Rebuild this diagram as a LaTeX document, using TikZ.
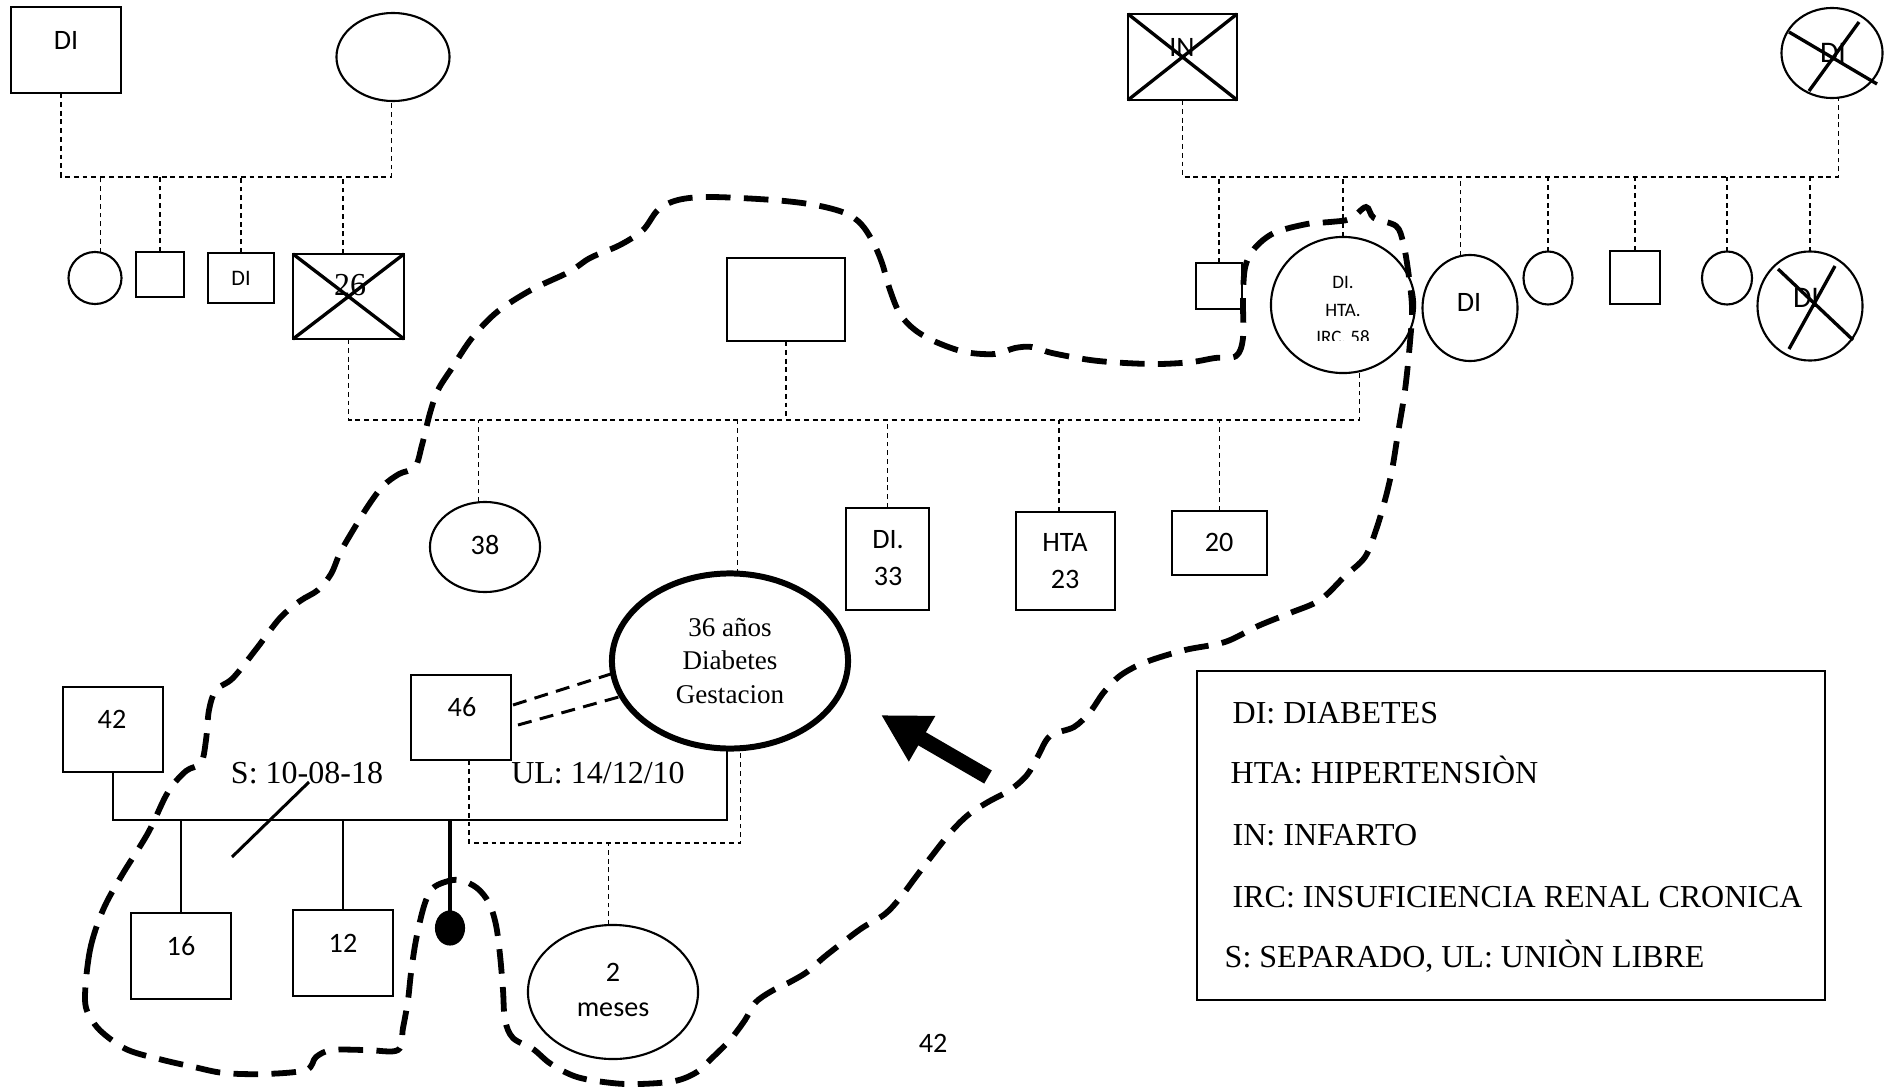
\documentclass[tikz,border=0pt]{standalone}
\usepackage{fontspec}
\setmainfont{Liberation Serif}
\newfontfamily\carl{Carlito}
\usetikzlibrary{shapes.geometric,calc,arrows.meta}
\begin{document}
\begin{tikzpicture}[x=0.01cm,y=-0.01cm,
  pbox/.style 2 args={draw,line width=0.6pt,rectangle,inner sep=0pt,outer sep=0pt,minimum width=#1*0.28453pt,minimum height=#2*0.28453pt},
  pell/.style 2 args={draw,line width=0.6pt,ellipse,inner sep=0pt,outer sep=0pt,minimum width=#1*0.28453pt,minimum height=#2*0.28453pt},
  sanslbl/.style={inner sep=0pt,font=\carl\fontsize{8}{9.6}\selectfont},
  seriflbl/.style={inner sep=0pt,font=\fontsize{9.1}{11}\selectfont},
  conn/.style={line width=0.35pt,dash pattern=on 1.4pt off 1.1pt},
  solidc/.style={line width=0.4pt},
  xline/.style={line width=0.95pt},
  dbl/.style={line width=0.85pt,dash pattern=on 4pt off 2.4pt},
  hull/.style={line width=1.65pt,dash pattern=on 7pt off 3.8pt},
]
\useasboundingbox (0,0) rectangle (1888,1088);

% ---------- top-left grandparents ----------
\node[pbox={110}{86}] (gpA) at (66,50) {};
\node[sanslbl] (gpAt) at (66,40) {DI};
\node[pell={113}{88}] (gpB) at (393,57) {};

% top-left children
\node[pell={53}{52}] (c1) at (95,278) {};
\node[pbox={48}{45}] (c2) at (160,274.5) {};
\node[pbox={66}{50}] (c3) at (241,278) {};
\node[sanslbl,font=\carl\fontsize{6.3}{7}\selectfont] (c3t) at (241,278) {DI};
\node[pbox={111}{85}] (c4) at (348.5,296.5) {};
\node[seriflbl] (c4t) at (350,285) {26};
\draw[xline] (c4.north west) -- (c4.south east) (c4.south west) -- (c4.north east);

\coordinate (barTL) at (0,177);
\coordinate (a1) at ($(gpA.south)+(-5,0)$);
\coordinate (c4n) at ($(c4.north)+(-5.5,0)$);
\draw[conn] (a1) -- (a1 |- barTL) -- (gpB.-92 |- barTL) -- (gpB.-92);
\draw[conn] (c1.77) -- (c1.77 |- barTL);
\draw[conn] (c2.north) -- (c2.north |- barTL);
\draw[conn] (c3.north) -- (c3.north |- barTL);
\draw[conn] (c4n) -- (c4n |- barTL);

% ---------- top-right grandparents ----------
\node[pbox={109}{86}] (gpC) at (1182.5,57) {};
\node[sanslbl] (gpCt) at (1182,47) {IN};
\draw[xline] (gpC.north west) -- (gpC.south east) (gpC.south west) -- (gpC.north east);
\node[pell={101}{90}] (gpD) at (1832,53) {};
\node[sanslbl,font=\carl\fontsize{8.5}{10}\selectfont] (gpDt) at (1833,53) {DI};
\draw[xline] ($(gpD.center)+(-43,-21)$) -- ($(gpD.center)+(45,31)$)
             ($(gpD.center)+(27,-31)$) -- ($(gpD.center)+(-23,38)$);

% top-right children
\node[pbox={46}{46}] (d1) at (1219,286) {};
\node[pell={144}{136}] (d2) at (1343,305) {};
\begin{scope}
  \clip (1260,240) rectangle (1430,340);
  \node[inner sep=0pt,align=center,font=\carl\fontsize{5.4}{7.8}\selectfont] (d2t) at (1343,310) {DI.\\HTA.\\IRC. 58};
\end{scope}
\node[pell={95}{106}] (d3) at (1470,308) {};
\node[sanslbl] (d3t) at (1469,302) {DI};
\node[pell={49}{53}] (d4) at (1548,278) {};
\node[pbox={50}{53}] (d5) at (1635,277.5) {};
\node[pell={50}{53}] (d6) at (1727,278) {};
\node[pell={105}{109}] (d7) at (1810,306) {};
\node[sanslbl,font=\carl\fontsize{8.5}{10}\selectfont] (d7t) at (1806,298) {DI};
\draw[xline] ($(d7.center)+(-32,-37)$) -- ($(d7.center)+(43,34)$)
             ($(d7.center)+(25,-40)$) -- ($(d7.center)+(-21,43)$);

\coordinate (barTR) at (0,177);
\draw[conn] (gpC.south) -- (gpC.south |- barTR) -- (gpD.-82 |- barTR) -- (gpD.-82);
\draw[conn] (d1.north) -- (d1.north |- barTR);
\draw[conn] (d2.north) -- (d2.north |- barTR);
\draw[conn] (d3.100) -- (d3.100 |- barTR);
\draw[conn] (d4.north) -- (d4.north |- barTR);
\draw[conn] (d5.north) -- (d5.north |- barTR);
\draw[conn] (d6.north) -- (d6.north |- barTR);
\draw[conn] (d7.north) -- (d7.north |- barTR);

% ---------- middle generation ----------
\node[pbox={118}{83}] (mid) at (786,299.5) {};
\node[pell={110}{90}] (e38) at (485,547) {};
\node[sanslbl] (e38t) at (485,545) {38};
\node[pell={236}{175},line width=1.7pt,align=center,font=\fontsize{7.7}{9.5}\selectfont] (idx) at (730,661) {36 años\\Diabetes\\Gestacion};
\node[pbox={83}{102}] (b33) at (887.5,559) {};
\node[sanslbl,align=center,font=\carl\fontsize{8}{10.5}\selectfont] (b33t) at (888,558.5) {DI.\\33};
\node[pbox={99}{98}] (b23) at (1065.5,561) {};
\node[sanslbl,align=center,font=\carl\fontsize{8}{10.5}\selectfont] (b23t) at (1065,561.5) {HTA\\23};
\node[pbox={95}{64}] (b20) at (1219.5,543) {};
\node[sanslbl] (b20t) at (1219,542) {20};

\coordinate (barM) at (0,420);
\coordinate (b23n) at ($(b23.north)+(-6.5,0)$);
\draw[conn] (c4.south) -- (c4.south |- barM) -- (d2.-76 |- barM) -- (d2.-76);
\draw[conn] (mid.south) -- (mid.south |- barM);
\draw[conn] (e38.98) -- (e38.98 |- barM);
\draw[conn] (idx.85) -- (idx.85 |- barM);
\draw[conn] (b33.north) -- (b33.north |- barM);
\draw[conn] (b23n) -- (b23n |- barM);
\draw[conn] (b20.north) -- (b20.north |- barM);

% ---------- bottom generation ----------
\node[pbox={100}{85}] (b42) at (113,729.5) {};
\node[sanslbl] (b42t) at (112,719) {42};
\node[pbox={100}{85}] (b46) at (461,717.5) {};
\node[sanslbl] (b46t) at (462,707) {46};
\node[pbox={100}{86}] (b16) at (181,956) {};
\node[sanslbl] (b16t) at (181,946) {16};
\node[pbox={100}{86}] (b12) at (343,953) {};
\node[sanslbl] (b12t) at (343,943) {12};
\node[pell={28}{33},fill=black] (dot) at (450,928) {};
\node[pell={170}{134}] (e2m) at (613,992) {};
\node[sanslbl,align=center,font=\carl\fontsize{8}{10.2}\selectfont] (e2mt) at (613,990) {2\\meses};

\coordinate (barB) at (0,820);
\draw[solidc] (b42.south) -- (b42.south |- barB) -- (idx.-92.6 |- barB) -- (idx.-92.6);
\draw[solidc] (b16.north) -- (b16.north |- barB);
\draw[solidc] (b12.north) -- (b12.north |- barB);
\draw[line width=0.9pt] (dot.north) -- (dot.north |- barB);
\coordinate (s1) at (309,782);
\coordinate (s2) at (232,857);
\draw[line width=0.85pt] (s1) -- (s2);
\node[seriflbl,anchor=base] (sl) at (307,783) {S: 10-08-18};
\node[seriflbl,anchor=base] (ul) at (598,783) {UL: 14/12/10};

\coordinate (barU) at (0,843);
\coordinate (u1) at ($(b46.south)+(8,0)$);
\draw[conn] (u1) -- (u1 |- barU) -- (idx.-83 |- barU) -- (idx.-83);
\draw[conn] (e2m.94) -- (e2m.94 |- barU);

\draw[dbl] ($(b46.east)+(2,-12.5)$) -- (idx.186);
\draw[dbl] ($(b46.east)+(7,7.5)$) -- (idx.198);

% ---------- arrow ----------
\coordinate (arT) at (988,777);
\coordinate (arH) at (881,715);
\draw[line width=4.3pt,-{Triangle[length=13.5pt,width=14pt]}] (arT) -- (arH);

% ---------- legend ----------
\node[pbox={628}{329},line width=0.7pt] (leg) at (1511,835.5) {};
\node[seriflbl,anchor=base west] (l1) at (1232,723) {DI: DIABETES};
\node[seriflbl,anchor=base west] (l2) at (1230,783) {HTA: HIPERTENSIÒN};
\node[seriflbl,anchor=base west] (l3) at (1232,845) {IN: INFARTO};
\node[seriflbl,anchor=base west] (l4) at (1232,907) {IRC: INSUFICIENCIA RENAL CRONICA};
\node[seriflbl,anchor=base west] (l5) at (1224,967) {S: SEPARADO, UL: UNIÒN LIBRE};

\node[sanslbl] (pg) at (933,1043) {42};

% ---------- dashed hull ----------
\draw[hull] plot[smooth cycle,tension=0.55] coordinates {
(85,1000) (90,950) (103,910) (122,875) (148,833) (168,792) (186,771) (201,763) (206,740) (209,710) (216,690) (233,678)
(257,648) (280,618) (300,601) (318,590) (331,574) (340,553) (352,532) (368,506) (383,486) (399,474) (415,467) (422,445)
(430,413) (438,390) (452,368) (472,338) (497,312) (531,290) (569,272) (590,258) (620,245) (643,230) (658,210) (678,200)
(710,197) (773,200) (815,205) (845,213) (861,224) (873,242) (882,263) (890,290) (900,314) (915,330) (936,342) (965,352)
(995,354) (1015,348) (1032,347) (1052,353) (1090,360) (1125,363) (1160,364) (1192,362) (1215,358) (1236,356) (1243,338)
(1243,300) (1245,268) (1254,249) (1274,233) (1307,224) (1330,222) (1350,219) (1366,207) (1374,218) (1396,226) (1403,242)
(1408,270) (1412,307) (1410,342) (1405,390) (1398,433) (1392,470) (1385,500) (1376,530) (1365,557) (1345,576) (1320,600)
(1290,613) (1258,626) (1225,642) (1185,650) (1146,662) (1121,675) (1104,692) (1090,712) (1074,727) (1050,736) (1038,756)
(1027,775) (1010,790) (988,802) (968,815) (950,833) (931,857) (915,878) (900,898) (885,914) (862,928) (842,943) (823,958)
(807,972) (790,982) (770,992) (755,1003) (745,1020) (730,1040) (712,1058) (697,1072) (675,1081) (640,1084) (612,1083)
(577,1077) (551,1064) (533,1049) (513,1038) (505,1020) (503,990) (500,955) (496,925) (489,903) (477,888) (460,880)
(445,882) (432,889) (424,906) (416,940) (411,973) (408,1000) (403,1028) (398,1050) (367,1050) (332,1050) (316,1057)
(306,1070) (265,1074) (224,1073) (194,1067) (163,1060) (128,1050) (104,1034) (92,1020)};
\end{tikzpicture}
\end{document}
